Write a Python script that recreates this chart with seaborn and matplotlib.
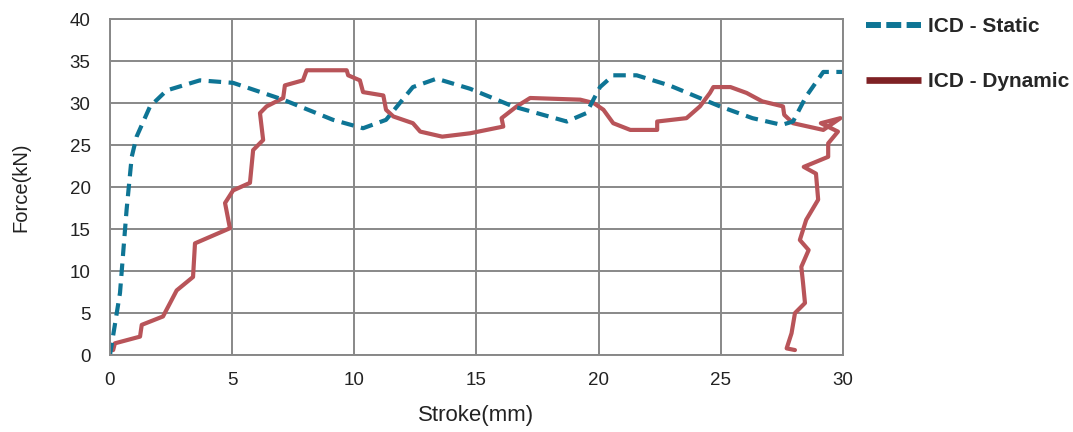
import numpy as np
import pandas as pd
import seaborn as sns
import matplotlib.pyplot as plt
from matplotlib.lines import Line2D

# Static test curve
static_stroke = [0.0, 0.41, 0.68, 0.89, 1.09, 1.64, 2.32, 3.68, 5.04, 7.09, 9.13, 10.36,
                 11.3, 12.4, 13.37, 14.74, 16.5, 18.7, 19.5, 20.06, 20.6, 21.56, 22.9,
                 24.97, 26.3, 27.5, 27.96, 28.5, 29.2, 30.0]
static_force = [0.0, 7.4, 17.3, 23.6, 26.0, 29.6, 31.5, 32.7, 32.4, 30.4, 28.0, 27.0,
                28.0, 31.9, 32.9, 31.7, 29.6, 27.8, 28.8, 31.9, 33.3, 33.3, 32.1,
                29.6, 28.2, 27.4, 27.8, 30.8, 33.7, 33.7]

# Dynamic test curve
dynamic_stroke = [0.13, 0.2, 1.23, 1.3, 2.17, 2.46, 2.73, 3.4, 3.48, 4.91, 4.71, 5.04,
                  5.73, 5.86, 6.27, 6.14, 6.41, 7.09, 7.16, 7.9, 8.05, 9.69, 9.75, 10.23,
                  10.36, 11.19, 11.3, 11.6, 12.4, 12.7, 13.6, 14.74, 16.1, 16.03, 16.65,
                  17.2, 19.25, 19.8, 20.2, 20.6, 21.3, 22.4, 22.4, 23.6, 24.15, 24.56,
                  24.7, 25.4, 26.06, 26.7, 27.55, 27.6, 27.96, 29.2, 29.9, 29.1, 29.8,
                  29.4, 29.4, 28.4, 28.9, 28.99, 28.5, 28.24, 28.6, 28.3, 28.37, 28.45,
                  28.04, 27.9, 27.7, 28.04]
dynamic_force = [0.6, 1.4, 2.2, 3.6, 4.6, 6.2, 7.7, 9.3, 13.3, 15.1, 18.1, 19.6,
                 20.5, 24.4, 25.6, 28.8, 29.6, 30.6, 32.1, 32.7, 33.9, 33.9, 33.3, 32.7,
                 31.3, 30.9, 29.2, 28.4, 27.6, 26.6, 26.0, 26.4, 27.2, 28.2, 29.6,
                 30.6, 30.4, 30.0, 29.2, 27.6, 26.8, 26.8, 27.8, 28.2, 29.6, 31.2,
                 31.9, 31.9, 31.2, 30.2, 29.6, 28.6, 27.6, 26.8, 28.2, 27.6, 26.6,
                 25.2, 23.6, 22.4, 21.6, 18.5, 16.1, 13.7, 12.5, 10.5, 8.6, 6.2,
                 5.0, 2.6, 0.8, 0.6]

x_ticks = [0, 5, 10, 15, 20, 25, 30]
y_ticks = [0, 5, 10, 15, 20, 25, 30, 35, 40]

static_color = '#0e7595'
dynamic_color = '#b85459'
legend_dyn_color = '#7e2124'

sns.set_style('white')
plt.rcParams['font.family'] = ['Liberation Sans', 'DejaVu Sans']

fig = plt.figure(figsize=(10.73, 4.32), dpi=100)
ax = fig.add_axes([0.1025, 0.178, 0.683, 0.778])

df_static = pd.DataFrame({'stroke': static_stroke, 'force': static_force})
df_dyn = pd.DataFrame({'stroke': dynamic_stroke, 'force': dynamic_force})

sns.lineplot(data=df_dyn, x='stroke', y='force', sort=False, estimator=None,
             color=dynamic_color, linewidth=3.0, ax=ax)
sns.lineplot(data=df_static, x='stroke', y='force', sort=False, estimator=None,
             color=static_color, linewidth=3.0, ax=ax)
ax.lines[-1].set_dashes([3.0, 1.8])

ax.set_xlim(0, 30)
ax.set_ylim(0, 40)
ax.set_xticks(x_ticks)
ax.set_yticks(y_ticks)
ax.tick_params(length=0, labelsize=13.5, colors='#222222')
ax.tick_params(axis='x', pad=12)
ax.tick_params(axis='y', pad=14)
ax.grid(True, color='#888888', linewidth=1.4)
for s in ax.spines.values():
    s.set_color('#888888')
    s.set_linewidth(1.4)

ax.set_xlabel('Stroke(mm)', fontsize=16, labelpad=12, color='#222222')
ax.set_ylabel('Force(kN)', fontsize=14.5, labelpad=28, color='#222222')

handles = [Line2D([0], [0], color=static_color, linewidth=4.3, dashes=[2.5, 0.9],
                  dash_capstyle='butt'),
           Line2D([0], [0], color=legend_dyn_color, linewidth=4.8,
                  solid_capstyle='butt')]
fig.legend(handles, ['ICD - Static', 'ICD - Dynamic'], loc='upper left',
           bbox_to_anchor=(866 / 1073, 1 - 17 / 432), frameon=False,
           handlelength=2.65, handletextpad=0.35, borderpad=0, borderaxespad=0,
           labelspacing=1.75, prop={'weight': 'bold', 'size': 15})

fig.savefig('out.png', dpi=100)
